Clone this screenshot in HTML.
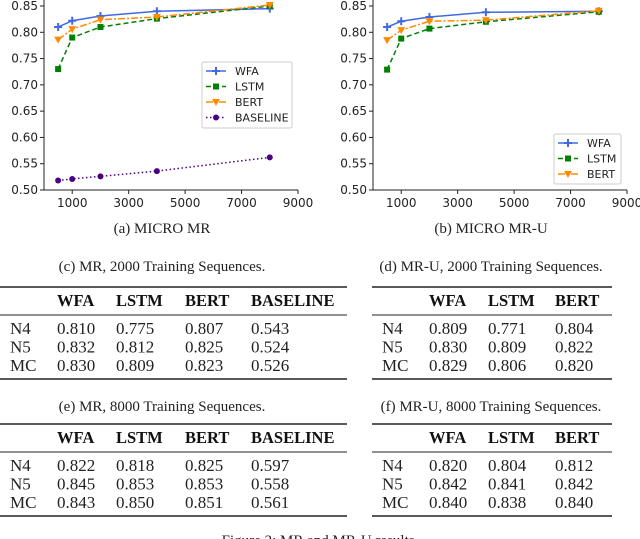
<!DOCTYPE html>
<html><head><meta charset="utf-8"><style>
html,body{margin:0;padding:0;background:#fff;}
svg{display:block;}
.tk{font-family:"DejaVu Sans",sans-serif;font-size:12px;fill:#222;}
.lg{font-family:"DejaVu Sans",sans-serif;font-size:11px;fill:#222;}
.cap{font-family:"Liberation Serif",serif;font-size:15px;fill:#222;}
.tb{font-family:"Liberation Serif",serif;font-size:17px;fill:#222;}
.th{font-family:"Liberation Serif",serif;font-size:16.5px;font-weight:bold;fill:#111;}
</style></head><body>
<svg id="fig" width="640" height="539" viewBox="0 0 640 539">
<g id="chartA"></g>
<g id="chartB"></g>
<text class="cap" x="162" y="233" text-anchor="middle">(a) MICRO MR</text>
<text class="cap" x="491" y="233" text-anchor="middle">(b) MICRO MR-U</text>
<text class="cap" x="162" y="271" text-anchor="middle">(c) MR, 2000 Training Sequences.</text>
<text class="cap" x="491" y="271" text-anchor="middle">(d) MR-U, 2000 Training Sequences.</text>
<text class="cap" x="162" y="411" text-anchor="middle">(e) MR, 8000 Training Sequences.</text>
<text class="cap" x="491" y="411" text-anchor="middle">(f) MR-U, 8000 Training Sequences.</text>
<text class="cap" x="320" y="545" text-anchor="middle">Figure 2: MR and MR-U results.</text>
<g id="tables"></g>
</svg>
<script>
const NS="http://www.w3.org/2000/svg";
function mk(p,tag,at,txt){const e=document.createElementNS(NS,tag);for(const k in at)e.setAttribute(k,at[k]);if(txt!==undefined)e.textContent=txt;p.appendChild(e);return e;}

// chart data
const xVals=[500,1000,2000,4000,8000];
const xTicks=[1000,3000,5000,7000,9000];
const yTicks=[0.50,0.55,0.60,0.65,0.70,0.75,0.80,0.85];
const mrWFA=[0.810,0.822,0.831,0.840,0.845];
const mrLSTM=[0.730,0.790,0.810,0.826,0.850];
const mrBERT=[0.786,0.806,0.824,0.829,0.852];
const mrBASE=[0.518,0.521,0.526,0.536,0.562];
const muWFA=[0.810,0.821,0.829,0.838,0.840];
const muLSTM=[0.729,0.788,0.807,0.820,0.839];
const muBERT=[0.785,0.804,0.821,0.823,0.841];

const styles={WFA:{c:"#4169e1",d:"",m:"plus"},LSTM:{c:"#008000",d:"5,3",m:"sq"},BERT:{c:"#ff8c00",d:"7,2,2,2",m:"tri"},BASELINE:{c:"#4b0082",d:"1.5,2.5",m:"circ"}};

function marker(g,m,x,y,c){
  if(m==="plus"){mk(g,"path",{d:`M${x-4},${y}H${x+4}M${x},${y-4}V${y+4}`,stroke:c,"stroke-width":2});}
  else if(m==="sq"){mk(g,"rect",{x:x-3,y:y-3,width:6,height:6,fill:c});}
  else if(m==="tri"){mk(g,"path",{d:`M${x-4},${y-3}L${x+4},${y-3}L${x},${y+4}Z`,fill:c});}
  else mk(g,"circle",{cx:x,cy:y,r:3,fill:c});
}

function chart(g,left,series,leg){
  const x0=left, right=left+254;
  const sx=v=>x0+(v/9000)*(254);
  const sy=v=>190-(v-0.5)/0.35*184;
  for(const t of yTicks){
    mk(g,"line",{x1:x0-4,x2:x0,y1:sy(t),y2:sy(t),stroke:"#222"});
    const tx=mk(g,"text",{class:"tk",x:x0-6,y:sy(t)+4,"text-anchor":"end"},t.toFixed(2));
    
    
  }
  for(const t of xTicks){
    mk(g,"line",{x1:sx(t),x2:sx(t),y1:190,y2:194,stroke:"#222"});
    const tx=mk(g,"text",{class:"tk",x:sx(t),y:207,"text-anchor":"middle"},String(t));
    
    
  }
  mk(g,"line",{x1:x0,x2:x0,y1:0,y2:190,stroke:"#222"});
  mk(g,"line",{x1:x0,x2:right,y1:190,y2:190,stroke:"#222"});
  for(const [name,vals] of series){
    const s=styles[name];
    const sg=mk(g,"g",{});
    
    
    const pts=vals.map((v,i)=>sx(xVals[i])+","+sy(v)).join(" ");
    mk(sg,"polyline",{points:pts,fill:"none",stroke:s.c,"stroke-width":1.5,"stroke-dasharray":s.d});
    vals.forEach((v,i)=>marker(sg,s.m,sx(xVals[i]),sy(v),s.c));
  }
  const lg=mk(g,"g",{});
  
  
  mk(lg,"rect",{x:leg.x,y:leg.y,width:leg.w,height:leg.h,fill:"#fff",stroke:"#ccc",rx:2});
  series.forEach(([name],i)=>{
    const s=styles[name];const y=leg.y+9+i*15.5;
    const e=mk(lg,"g",{});
    
    
    mk(e,"line",{x1:leg.x+4,x2:leg.x+24,y1:y,y2:y,stroke:s.c,"stroke-width":1.5,"stroke-dasharray":s.d});
    marker(e,s.m,leg.x+14,y,s.c);
    mk(e,"text",{class:"lg",x:leg.x+33,y:y+4},name);
  });
}
chart(document.getElementById("chartA"),44,[["WFA",mrWFA],["LSTM",mrLSTM],["BERT",mrBERT],["BASELINE",mrBASE]],{x:202,y:62,w:90,h:66});
chart(document.getElementById("chartB"),373,[["WFA",muWFA],["LSTM",muLSTM],["BERT",muBERT]],{x:554,y:134,w:67,h:50});

// tables
const rowLabels=["N4","N5","MC"];
const tC=[["0.810","0.775","0.807","0.543"],["0.832","0.812","0.825","0.524"],["0.830","0.809","0.823","0.526"]];
const tD=[["0.809","0.771","0.804"],["0.830","0.809","0.822"],["0.829","0.806","0.820"]];
const tE=[["0.822","0.818","0.825","0.597"],["0.845","0.853","0.853","0.558"],["0.843","0.850","0.851","0.561"]];
const tF=[["0.820","0.804","0.812"],["0.842","0.841","0.842"],["0.840","0.838","0.840"]];
function table(name,x1,x2,top,cols,heads,data){
  const g=mk(document.getElementById("tables"),"g",{});
  
  
  mk(g,"line",{x1:x1,x2:x2,y1:top,y2:top,stroke:"#222","stroke-width":1.6});
  mk(g,"line",{x1:x1,x2:x2,y1:top+28,y2:top+28,stroke:"#222","stroke-width":1});
  mk(g,"line",{x1:x1,x2:x2,y1:top+92,y2:top+92,stroke:"#222","stroke-width":1.6});
  heads.forEach((h,i)=>mk(g,"text",{class:"th",x:cols[i+1],y:top+19},h));
  data.forEach((r,j)=>{
    const y=top+47+j*18.5;
    mk(g,"text",{class:"tb",x:cols[0],y:y},rowLabels[j]);
    r.forEach((v,i)=>mk(g,"text",{class:"tb",x:cols[i+1],y:y},v));
  });
}
table("table-mr-2000",0,347,287,[10,57,116,185,251],["WFA","LSTM","BERT","BASELINE"],tC);
table("table-mr-u-2000",372,612,287,[382,429,488,555],["WFA","LSTM","BERT"],tD);
table("table-mr-8000",0,347,424,[10,57,116,185,251],["WFA","LSTM","BERT","BASELINE"],tE);
table("table-mr-u-8000",372,612,424,[382,429,488,555],["WFA","LSTM","BERT"],tF);
</script>
</body></html>
